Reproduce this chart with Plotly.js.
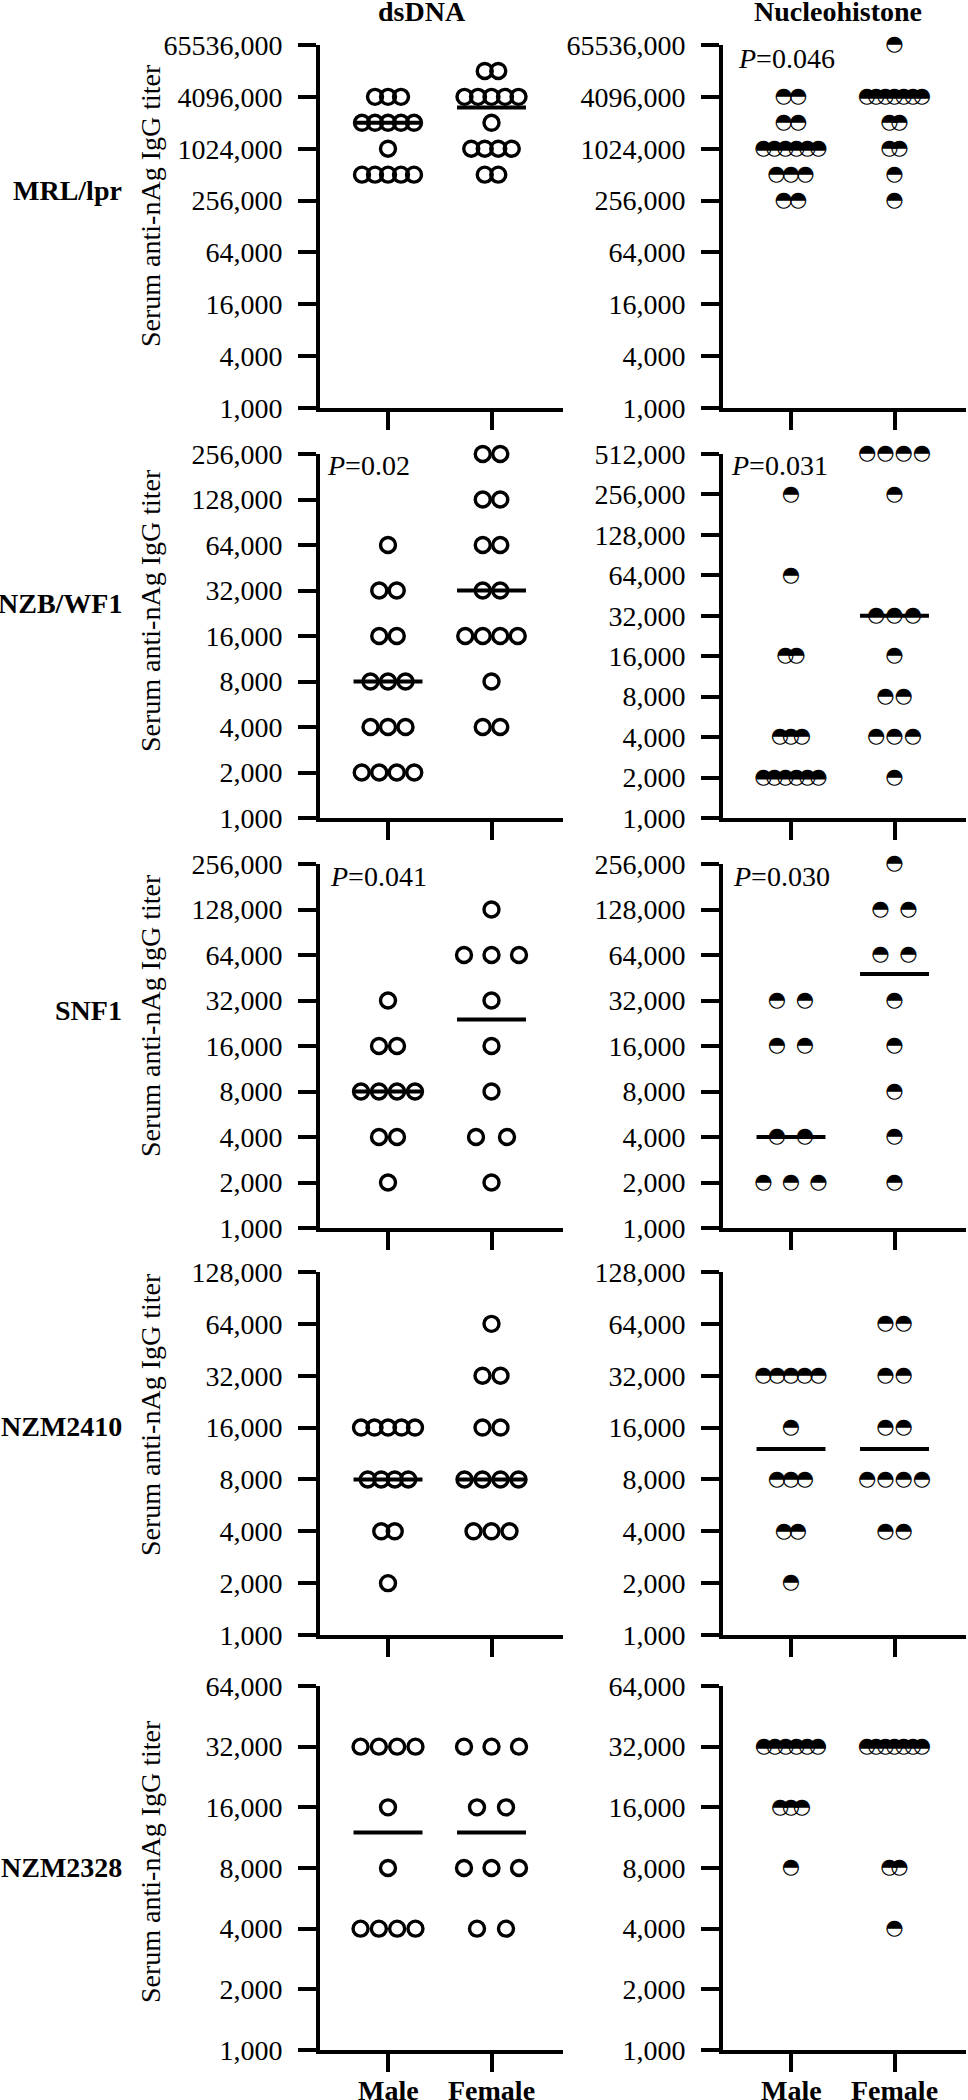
<!DOCTYPE html>
<html><head><meta charset="utf-8">
<script src="https://cdn.plot.ly/plotly-3.0.1.min.js"></script>
<style>body{margin:0;background:#fff}#chart{width:968px;height:2100px}</style>
</head><body><div id="chart"></div>
<script>
// ---------------- DATA ----------------
const strains = ["MRL/lpr", "NZB/WF1", "SNF1", "NZM2410", "NZM2328"];
const antigens = ["dsDNA", "Nucleohistone"];
const sexes = ["Male", "Female"];
const yTitle = "Serum anti-nAg IgG titer";

// Serum titers, one value per mouse
const mrl_dsDNA_male = [4096000, 4096000, 4096000, 2048000, 2048000, 2048000, 2048000, 2048000, 1024000, 512000, 512000, 512000, 512000, 512000];
const mrl_dsDNA_female = [8192000, 8192000, 4096000, 4096000, 4096000, 4096000, 4096000, 2048000, 1024000, 1024000, 1024000, 1024000, 512000, 512000];
const mrl_nh_male = [4096000, 4096000, 2048000, 2048000, 1024000, 1024000, 1024000, 1024000, 1024000, 1024000, 512000, 512000, 512000, 256000, 256000];
const mrl_nh_female = [16384000, 4096000, 4096000, 4096000, 4096000, 4096000, 4096000, 4096000, 2048000, 2048000, 1024000, 1024000, 512000, 256000];

const nzb_dsDNA_male = [64000, 32000, 32000, 16000, 16000, 8000, 8000, 8000, 4000, 4000, 4000, 2000, 2000, 2000, 2000];
const nzb_dsDNA_female = [256000, 256000, 128000, 128000, 64000, 64000, 32000, 32000, 16000, 16000, 16000, 16000, 8000, 4000, 4000];
const nzb_nh_male = [256000, 64000, 16000, 16000, 4000, 4000, 4000, 2000, 2000, 2000, 2000, 2000, 2000, 1000, 1000];
const nzb_nh_female = [512000, 512000, 512000, 512000, 256000, 32000, 32000, 32000, 16000, 8000, 8000, 4000, 4000, 4000, 2000];

const snf1_dsDNA_male = [32000, 16000, 16000, 8000, 8000, 8000, 8000, 4000, 4000, 2000];
const snf1_dsDNA_female = [128000, 64000, 64000, 64000, 32000, 16000, 8000, 4000, 4000, 2000];
const snf1_nh_male = [32000, 32000, 16000, 16000, 4000, 4000, 2000, 2000, 2000, 1000];
const snf1_nh_female = [256000, 128000, 128000, 64000, 64000, 32000, 16000, 8000, 4000, 2000];

const nzm2410_dsDNA_male = [16000, 16000, 16000, 16000, 16000, 8000, 8000, 8000, 8000, 4000, 4000, 2000];
const nzm2410_dsDNA_female = [64000, 32000, 32000, 16000, 16000, 8000, 8000, 8000, 8000, 4000, 4000, 4000];
const nzm2410_nh_male = [32000, 32000, 32000, 32000, 32000, 16000, 8000, 8000, 8000, 4000, 4000, 2000];
const nzm2410_nh_female = [64000, 64000, 32000, 32000, 16000, 16000, 8000, 8000, 8000, 8000, 4000, 4000];

const nzm2328_dsDNA_male = [32000, 32000, 32000, 32000, 16000, 8000, 4000, 4000, 4000, 4000];
const nzm2328_dsDNA_female = [32000, 32000, 32000, 16000, 16000, 8000, 8000, 8000, 4000, 4000];
const nzm2328_nh_male = [32000, 32000, 32000, 32000, 32000, 32000, 16000, 16000, 16000, 8000];
const nzm2328_nh_female = [32000, 32000, 32000, 32000, 32000, 32000, 32000, 8000, 8000, 4000];

// y-axis tick values and labels per row
const tickVals_mrl = [1000, 4000, 16000, 64000, 256000, 1024000, 4096000, 16384000];
const tickText_mrl = ["1,000", "4,000", "16,000", "64,000", "256,000", "1024,000", "4096,000", "65536,000"];
const tickVals_256 = [1000, 2000, 4000, 8000, 16000, 32000, 64000, 128000, 256000];
const tickText_256 = ["1,000", "2,000", "4,000", "8,000", "16,000", "32,000", "64,000", "128,000", "256,000"];
const tickVals_512 = [1000, 2000, 4000, 8000, 16000, 32000, 64000, 128000, 256000, 512000];
const tickText_512 = ["1,000", "2,000", "4,000", "8,000", "16,000", "32,000", "64,000", "128,000", "256,000", "512,000"];
const tickVals_128 = [1000, 2000, 4000, 8000, 16000, 32000, 64000, 128000];
const tickText_128 = ["1,000", "2,000", "4,000", "8,000", "16,000", "32,000", "64,000", "128,000"];
const tickVals_64 = [1000, 2000, 4000, 8000, 16000, 32000, 64000];
const tickText_64 = ["1,000", "2,000", "4,000", "8,000", "16,000", "32,000", "64,000"];

const pValues = [["", "0.046"], ["0.02", "0.031"], ["0.041", "0.030"], ["", ""], ["", ""]];

// ---------------- ASSEMBLY ----------------
const panelData = [
  [[mrl_dsDNA_male, mrl_dsDNA_female], [mrl_nh_male, mrl_nh_female]],
  [[nzb_dsDNA_male, nzb_dsDNA_female], [nzb_nh_male, nzb_nh_female]],
  [[snf1_dsDNA_male, snf1_dsDNA_female], [snf1_nh_male, snf1_nh_female]],
  [[nzm2410_dsDNA_male, nzm2410_dsDNA_female], [nzm2410_nh_male, nzm2410_nh_female]],
  [[nzm2328_dsDNA_male, nzm2328_dsDNA_female], [nzm2328_nh_male, nzm2328_nh_female]]
];
const rowTicks = [
  [[tickVals_mrl, tickText_mrl], [tickVals_mrl, tickText_mrl]],
  [[tickVals_256, tickText_256], [tickVals_512, tickText_512]],
  [[tickVals_256, tickText_256], [tickVals_256, tickText_256]],
  [[tickVals_128, tickText_128], [tickVals_128, tickText_128]],
  [[tickVals_64, tickText_64], [tickVals_64, tickText_64]]
];

// ---------------- STYLE / LAYOUT (pixels) ----------------
const W = 968, H = 2100;
const FONT = "Liberation Serif";
const colAxisX = [320, 723];         // y-axis line x position per column
const panelW = 243;
const maleOff = 68, pxPerCat = 103.5;
const rowTop = [45, 454, 864, 1272, 1686];
const rowBottom = [408, 818, 1228, 1635, 2050];
// max horizontal spacing (px) between points in the same row [row][col][sex]
const spread = [
  [[13, 13.5], [14.5, 10]],
  [[17.5, 17.5], [11, 18.3]],
  [[18, 31], [28, 28]],
  [[13.5, 18], [14, 18.3]],
  [[18.3, 29], [10.8, 10]]
];
const maxSpan = 55;
const rowLabelY = [190, 603, 1010, 1426, 1867];
const yTitleY = [206, 611, 1016, 1415, 1862];
const yTitleX = 150;
const pPos = [[null, [736, 58]], [[325, 465], [729, 465]], [[328, 877], [731, 877]], [null, null], [null, null]];
const sexLabelY = 2090;

function median(a) {
  const s = a.slice().sort((p, q) => p - q);
  const n = s.length;
  return n % 2 ? s[(n - 1) / 2] : (s[n / 2 - 1] + s[n / 2]) / 2;
}
function swarmX(vals, cat, maxSp) {
  const groups = {};
  vals.forEach(v => { groups[v] = (groups[v] || 0) + 1; });
  const seen = {};
  return vals.map(v => {
    const n = groups[v];
    const k = seen[v] = (seen[v] === undefined ? 0 : seen[v] + 1);
    const sp = n > 1 ? Math.min(maxSp, maxSpan / (n - 1)) : 0;
    return cat + ((k - (n - 1) / 2) * sp) / pxPerCat;
  });
}

const traces = [];
const layout = {
  width: W, height: H, margin: {l: 0, r: 0, t: 0, b: 0},
  paper_bgcolor: "#fff", plot_bgcolor: "rgba(0,0,0,0)",
  showlegend: false, font: {family: FONT, color: "#000", size: 28},
  annotations: []
};

let idx = 0;
for (let r = 0; r < 5; r++) {
  for (let c = 0; c < 2; c++) {
    idx++;
    const xa = "xaxis" + (idx === 1 ? "" : idx), ya = "yaxis" + (idx === 1 ? "" : idx);
    const xr = "x" + (idx === 1 ? "" : idx), yr = "y" + (idx === 1 ? "" : idx);
    const x0 = colAxisX[c];
    const [tv, tt] = rowTicks[r][c];
    layout[xa] = {
      domain: [x0 / W, (x0 + panelW) / W], anchor: yr,
      range: [-maleOff / pxPerCat, (panelW - maleOff) / pxPerCat], fixedrange: true,
      tickmode: "array", tickvals: [0, 1], showticklabels: false,
      showline: true, linewidth: 4, linecolor: "#000",
      ticks: "outside", ticklen: 18, tickwidth: 4, tickcolor: "#000",
      showgrid: false, zeroline: false
    };
    layout[ya] = {
      domain: [1 - rowBottom[r] / H, 1 - rowTop[r] / H], anchor: xr,
      type: "log", range: [Math.log10(tv[0]), Math.log10(tv[tv.length - 1])], fixedrange: true,
      tickmode: "array", tickvals: tv, ticktext: tt,
      showline: true, linewidth: 4, linecolor: "#000",
      ticks: "outside", ticklen: 18, tickwidth: 4, tickcolor: "#000",
      showgrid: false, zeroline: false, ticklabelstandoff: 10,
      tickfont: {family: FONT, size: 28, color: "#000"}
    };
    for (let s = 0; s < 2; s++) {
      const vals = panelData[r][c][s];
      const m = median(vals);
      traces.push({
        type: "scatter", mode: "lines", xaxis: xr, yaxis: yr,
        x: [s - 0.333, s + 0.333], y: [m, m],
        line: {color: "#000", width: 4}, hoverinfo: "skip", cliponaxis: false
      });
      const xs = swarmX(vals, s, spread[r][c][s]);
      if (c === 0) {
        traces.push({
          type: "scatter", mode: "markers", xaxis: xr, yaxis: yr,
          x: xs, y: vals, cliponaxis: false,
          marker: {symbol: "circle-open", size: 15, color: "#000", line: {width: 3.4, color: "#000"}}
        });
      } else {
        traces.push({
          type: "scatter", mode: "text", xaxis: xr, yaxis: yr,
          x: xs, y: vals, cliponaxis: false,
          text: vals.map(() => "\u25D3"), textposition: "middle center",
          textfont: {family: "DejaVu Sans", size: 21, color: "#000"}
        });
      }
      if (r === 4) {
        layout.annotations.push({
          xref: xr, yref: "paper", x: s, y: 1 - sexLabelY / H,
          xanchor: "center", yanchor: "middle", showarrow: false,
          text: "<b>" + sexes[s] + "</b>", font: {family: FONT, size: 28, color: "#000"}
        });
      }
    }
    const pp = pPos[r][c];
    if (pp && pValues[r][c]) {
      layout.annotations.push({
        xref: "paper", yref: "paper", x: pp[0] / W, y: 1 - pp[1] / H,
        xanchor: "left", yanchor: "middle", showarrow: false,
        text: "<i>P</i>=" + pValues[r][c], font: {family: FONT, size: 28, color: "#000"}
      });
    }
  }
  layout.annotations.push({
    xref: "paper", yref: "paper", x: 124 / W, y: 1 - rowLabelY[r] / H,
    xanchor: "right", yanchor: "middle", showarrow: false,
    text: "<b>" + strains[r] + "</b>", font: {family: FONT, size: 28, color: "#000"}
  });
  layout.annotations.push({
    xref: "paper", yref: "paper", x: yTitleX / W, y: 1 - yTitleY[r] / H,
    xanchor: "center", yanchor: "middle", showarrow: false, textangle: -90,
    text: yTitle, font: {family: FONT, size: 28, color: "#000"}
  });
}
const colTitleX = [422, 838];
antigens.forEach((a, i) => {
  layout.annotations.push({
    xref: "paper", yref: "paper", x: colTitleX[i] / W, y: 1 - 12 / H,
    xanchor: "center", yanchor: "middle", showarrow: false,
    text: "<b>" + a + "</b>", font: {family: FONT, size: 28, color: "#000"}
  });
});

Plotly.newPlot("chart", traces, layout, {staticPlot: true, displayModeBar: false});
</script></body></html>
